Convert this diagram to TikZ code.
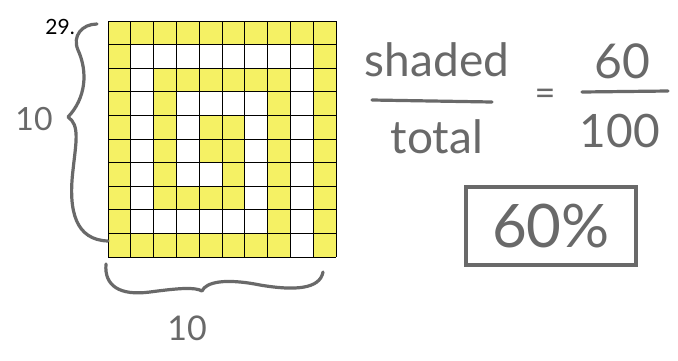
\documentclass[tikz,border=0pt]{standalone}
\usepackage{fontspec}
\setmainfont{Lato}
\definecolor{hl}{RGB}{245,241,100}
\definecolor{pen}{RGB}{105,105,105}
\begin{document}
\begin{tikzpicture}[x=1pt,y=-1pt,
  pentext/.style={text=pen,inner sep=0pt,font=\fontsize{#1}{#1}\selectfont},
  penline/.style={draw=pen,line width=3.2pt,line cap=round,line join=round},
  cellfill/.style={fill=hl,draw=none}]
\useasboundingbox (0,0) rectangle (678,360);
\fill[white] (0,0) rectangle (678,360);
\def\gx{108}\def\gy{21}\def\cw{22.8}\def\ch{23.6}
% shaded cells: row/col list
\foreach \r/\cols in {1/{1,2,3,4,5,6,7,8,9,10},2/{1,10},3/{1,3,4,5,6,7,8,10},4/{1,3,8,10},5/{1,3,5,6,8,10},6/{1,3,5,6,8,10},7/{1,3,6,8,10},8/{1,3,4,5,6,8,10},9/{1,8,10},10/{1,2,3,4,5,6,7,8,10}}{
  \foreach \c in \cols {
    \fill[hl] ({\gx+(\c-1)*\cw},{\gy+(\r-1)*\ch}) rectangle ++(\cw,\ch);
  }
}
% grid lines
\foreach \k in {0,...,10}{
  \draw[black,line width=0.8pt] ({\gx+\k*\cw},\gy) -- ({\gx+\k*\cw},{\gy+10*\ch});
  \draw[black,line width=0.8pt] (\gx,{\gy+\k*\ch}) -- ({\gx+10*\cw},{\gy+\k*\ch});
}
\node[inner sep=0pt,font=\fontsize{21}{21}\selectfont,anchor=east] (num) at (75,27) {29.};
% left brace
\coordinate (lbT) at (97,24);
\coordinate (lbB) at (108,241);
\draw[penline] (lbT) .. controls (82,24) and (72,36) .. (78,50) .. controls (88,72) and (86,98) .. (68,117) .. controls (80,125) and (76,142) .. (73,170) .. controls (68,212) and (76,240) .. (lbB);
\node[pentext=32] (tenL) at (34,119) {10};
% bottom brace
\coordinate (bbL) at (106,264);
\coordinate (bbR) at (323,272);
\draw[penline] (bbL) .. controls (104,286) and (120,296) .. (150,292) .. controls (180,288) and (195,287) .. (202,291) .. controls (206,282) and (225,278) .. (260,285) .. controls (295,291) and (320,289) .. (bbR);
\node[pentext=34] (tenB) at (187,328) {10};
% fraction
\node[pentext=46] (shaded) at (437,60) {shaded};
\coordinate (f1a) at (372,100);
\coordinate (f1b) at (492,102);
\draw[penline] (f1a) -- (f1b);
\node[pentext=46] (total) at (437,137) {total};
\node[pentext=36] (eq) at (545,97) {=};
\node[pentext=48] (sixty) at (622,61) {60};
\coordinate (f2a) at (582,92);
\coordinate (f2b) at (668,91);
\draw[penline] (f2a) -- (f2b);
\node[pentext=46] (hundred) at (620,131) {100};
% answer box
\node[pentext=60,draw=pen,line width=3.2pt,minimum width=170pt,minimum height=78pt] (ans) at (551,226) {60\%};
\end{tikzpicture}
\end{document}
